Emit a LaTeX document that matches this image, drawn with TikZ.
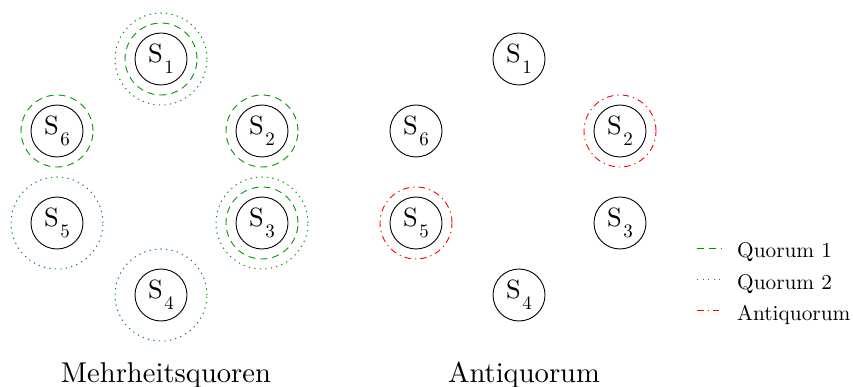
\documentclass[tikz,border=0pt]{standalone}
\usepackage{fontspec}
\setmainfont{lmroman10-regular}[Extension=.otf]
\newcommand{\srvlabel}[1]{S\kern1.5pt\raisebox{-11pt}{\fontsize{19}{21}\selectfont #1}}
\begin{document}
\begin{tikzpicture}[x=1pt,y=-1pt,
  srv/.style={circle, draw, line width=0.9pt, minimum size=52pt, inner sep=0pt, font=\fontsize{26.4}{30}\selectfont},
  qone/.style={draw=green!60!black, line width=0.9pt, dash pattern=on 7pt off 5pt},
  qtwo/.style={draw=green!60!black, line width=1pt, dash pattern=on 1.3pt off 4.2pt},
  anti/.style={draw=red, line width=0.9pt, dash pattern=on 6.5pt off 4pt on 1.3pt off 4pt},
  title/.style={font=\fontsize{28.6}{32}\selectfont, anchor=base},
  legtxt/.style={font=\fontsize{21.3}{25}\selectfont, anchor=base west, inner sep=0pt}]
\useasboundingbox (0,0) rectangle (853,387);
% left group
\node[srv] (l1) at (161,59) {\srvlabel{1}};
\node[srv] (l2) at (262,131) {\srvlabel{2}};
\node[srv] (l3) at (262,223) {\srvlabel{3}};
\node[srv] (l4) at (161,295) {\srvlabel{4}};
\node[srv] (l5) at (57,223) {\srvlabel{5}};
\node[srv] (l6) at (57,131) {\srvlabel{6}};
\draw[qone] (l1.center) circle (36pt);
\draw[qone] (l2.center) circle (36pt);
\draw[qone] (l3.center) circle (36pt);
\draw[qone] (l6.center) circle (36pt);
\draw[qtwo] (l1.center) circle (46pt);
\draw[qtwo] (l3.center) circle (46pt);
\draw[qtwo] (l4.center) circle (46pt);
\draw[qtwo] (l5.center) circle (46pt);
% right group
\node[srv] (r1) at (519,59) {\srvlabel{1}};
\node[srv] (r2) at (620,131) {\srvlabel{2}};
\node[srv] (r3) at (620,223) {\srvlabel{3}};
\node[srv] (r4) at (519,295) {\srvlabel{4}};
\node[srv] (r5) at (416,223) {\srvlabel{5}};
\node[srv] (r6) at (416,131) {\srvlabel{6}};
\draw[anti] (r2.center) circle (36pt);
\draw[anti] (r5.center) circle (36pt);
% titles
\node[title] (t1) at (166,382) {Mehrheitsquoren};
\node[title] (t2) at (524,382) {Antiquorum};
% legend
\coordinate (a1) at (697,248); \coordinate (b1) at (722,248);
\coordinate (a2) at (697,279); \coordinate (b2) at (722,279);
\coordinate (a3) at (697,310); \coordinate (b3) at (722,310);
\draw[qone] (a1) -- (b1);
\draw[qtwo] (a2) -- (b2);
\draw[anti] (a3) -- (b3);
\node[legtxt] (lg1) at (737,258) {Quorum 1};
\node[legtxt] (lg2) at (737,289) {Quorum 2};
\node[legtxt] (lg3) at (737,320) {Antiquorum};
\end{tikzpicture}
\end{document}
